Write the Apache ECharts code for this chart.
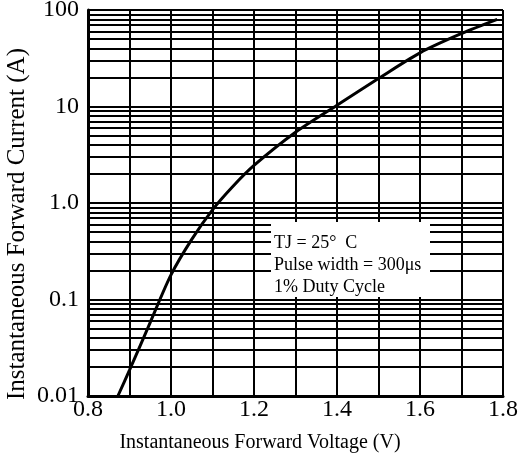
<!DOCTYPE html>
<html>
<head>
<meta charset="utf-8">
<script src="https://cdn.jsdelivr.net/npm/echarts@6/dist/echarts.min.js"></script>
<style>
  html, body { margin: 0; padding: 0; background: #fff; }
  #chart { width: 519px; height: 461px; }
</style>
</head>
<body>
<div id="chart"></div>
<script>
// forward characteristic
const voltage = [0.872, 0.9, 0.95, 1.0, 1.05, 1.1, 1.15, 1.2, 1.3, 1.4, 1.5, 1.6, 1.7, 1.786];
const current = [0.01, 0.0185, 0.058, 0.18, 0.42, 0.85, 1.5, 2.45, 5.4, 10.3, 19.5, 36, 57, 80];

// axis ticks / labels
const xLabeled = [0.8, 1.0, 1.2, 1.4, 1.6, 1.8];
const yLabels = { '0.01': '0.01', '0.1': '0.1', '1': '1.0', '10': '10', '100': '100' };
const decades = [0.01, 0.1, 1, 10];
const multiples = [1, 2, 3, 4, 5, 6, 7, 8, 9];
const noteLines = ['TJ = 25°  C', 'Pulse width = 300μs', '1% Duty Cycle'];

// horizontal log grid: 1..9 in every decade, plus top edge
const gridValues = [];
decades.forEach(d => multiples.forEach(m => gridValues.push(+(d * m).toPrecision(3))));
gridValues.push(100);

const serif = "'Liberation Serif', 'Times New Roman', serif";
const chart = echarts.init(document.getElementById('chart'));

chart.setOption({
  backgroundColor: '#fff',
  animation: false,
  grid: { left: 88, right: 16, top: 10, bottom: 65, outerBoundsMode: 'none' },
  xAxis: {
    type: 'value',
    min: 0.8,
    max: 1.8,
    interval: 0.1,
    name: 'Instantaneous Forward Voltage (V)',
    nameLocation: 'middle',
    nameGap: 37,
    nameTextStyle: { fontFamily: serif, fontSize: 20, color: '#000', padding: [0, 71, 0, 0] },
    axisLine: { lineStyle: { color: '#000', width: 3 } },
    axisTick: { show: false },
    axisLabel: {
      fontFamily: serif, fontSize: 24, color: '#000', margin: 2,
      formatter: v => xLabeled.some(t => Math.abs(t - v) < 1e-6) ? v.toFixed(1) : ''
    },
    splitLine: { show: true, lineStyle: { color: '#000', width: 2 } }
  },
  yAxis: {
    type: 'log',
    logBase: 10,
    min: 0.01,
    max: 100,
    name: 'Instantaneous Forward Current (A)',
    nameLocation: 'middle',
    nameGap: 58,
    nameMoveOverlap: false,
    nameTextStyle: { fontFamily: serif, fontSize: 25, color: '#000', padding: [0, 42, 0, 0] },
    axisLine: { show: true, lineStyle: { color: '#000', width: 3 } },
    axisTick: { show: false },
    axisLabel: {
      fontFamily: serif, fontSize: 24, color: '#000', margin: 9,
      formatter: v => yLabels[String(+v.toPrecision(3))] || ''
    },
    splitLine: { show: false }
  },
  series: [
    {
      name: 'grid',
      type: 'line',
      data: [],
      silent: true,
      z: 1,
      markLine: {
        silent: true,
        symbol: ['none', 'none'],
        label: { show: false },
        lineStyle: { color: '#000', width: 2, type: 'solid' },
        data: gridValues.map(v => ({ yAxis: v }))
      }
    },
    {
      name: 'IF',
      type: 'line',
      smooth: 0.3,
      showSymbol: false,
      z: 5,
      lineStyle: { color: '#000', width: 3 },
      data: voltage.map((v, i) => [v, current[i]])
    }
  ],
  graphic: [
    {
      type: 'rect',
      left: 271,
      top: 222,
      z: 100,
      shape: { width: 159, height: 75 },
      style: { fill: '#fff' }
    },
    {
      type: 'text',
      left: 274,
      top: 232,
      z: 101,
      style: {
        text: noteLines.join('\n'),
        font: "18px 'Liberation Serif', 'Times New Roman', serif",
        lineHeight: 22,
        fill: '#000'
      }
    }
  ]
});
</script>
</body>
</html>
